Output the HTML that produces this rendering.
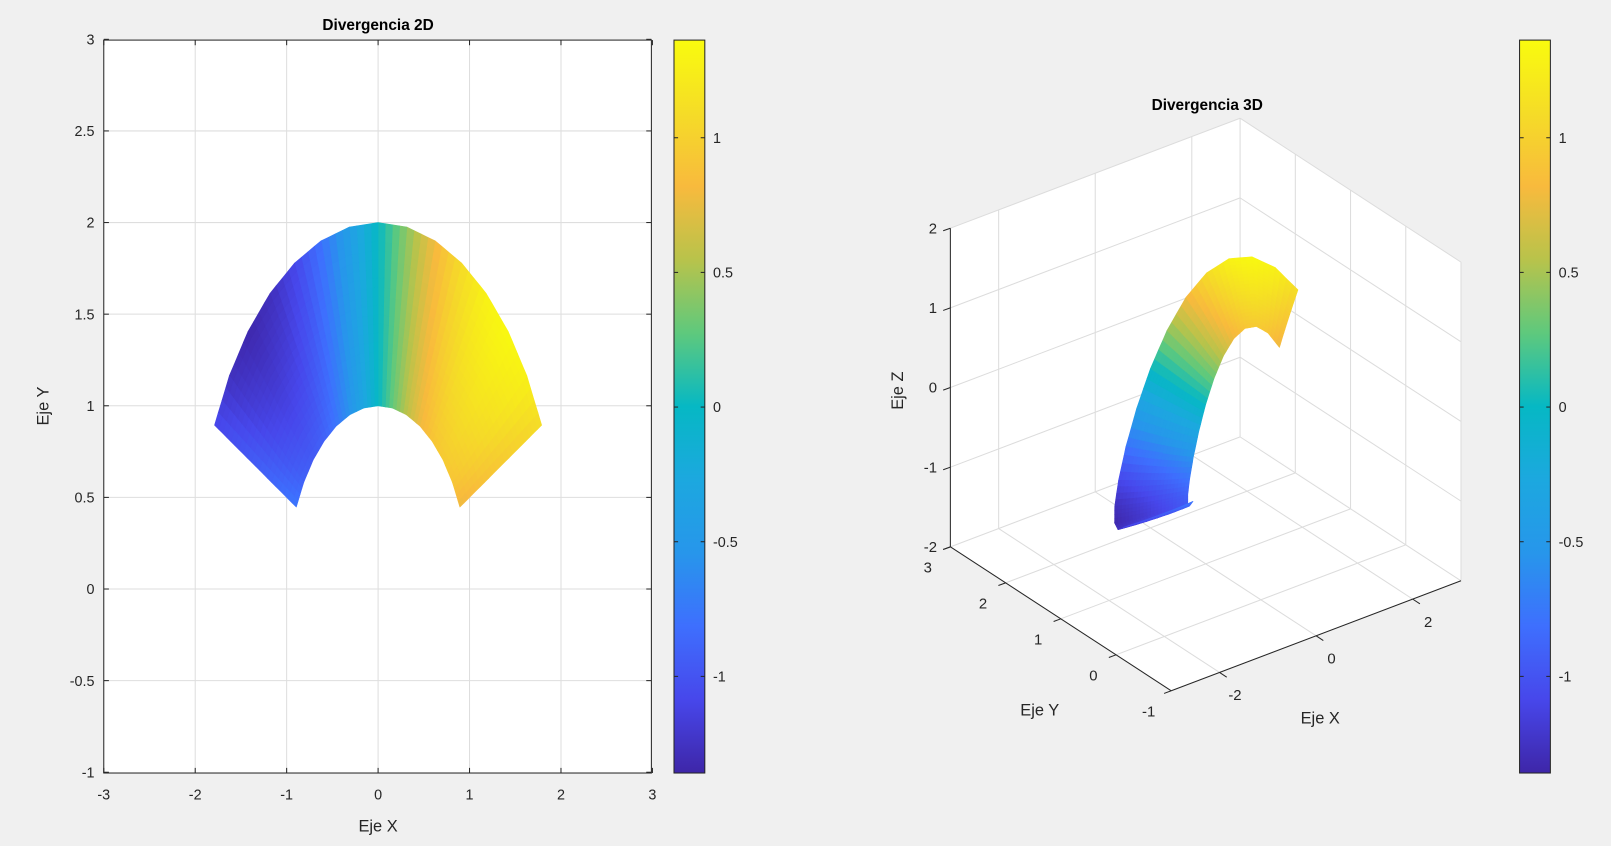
<!DOCTYPE html>
<html><head><meta charset="utf-8">
<style>
html,body{margin:0;padding:0;background:#f0f0f0;}
svg{display:block;font-family:"Liberation Sans",Arial,sans-serif;}
</style></head>
<body>
<svg id="s" width="1611" height="846" viewBox="0 0 1568 823" preserveAspectRatio="none" xmlns="http://www.w3.org/2000/svg">
<defs>
<linearGradient id="cb" x1="0" y1="1" x2="0" y2="0">
<stop offset="0" stop-color="#3e26a8"/><stop offset="0.1" stop-color="#4747eb"/><stop offset="0.2" stop-color="#3e6ffe"/><stop offset="0.3" stop-color="#2796eb"/><stop offset="0.4" stop-color="#1ca8df"/><stop offset="0.5" stop-color="#06b8c4"/><stop offset="0.6" stop-color="#5ec97d"/><stop offset="0.7" stop-color="#b8c34b"/><stop offset="0.8" stop-color="#f8ba3d"/><stop offset="0.9" stop-color="#f5dc27"/><stop offset="1" stop-color="#f9fb0e"/>
</linearGradient>
</defs>
<rect x="0" y="0" width="1568" height="823" fill="#f0f0f0"/>
<rect x="101" y="39" width="533" height="713" fill="#fff"/>
<g id="grid2d" stroke="#dedede" stroke-width="1"></g>
<g id="surf2d"></g>
<rect x="101" y="39" width="533" height="713" fill="none" stroke="#262626" stroke-width="1"/>
<g id="ticks2d" stroke="#262626" stroke-width="1"></g>
<g font-size="14" fill="#262626" id="lab2d"></g>
<text x="368" y="29" font-size="15" font-weight="bold" text-anchor="middle" fill="#000">Divergencia 2D</text>
<text x="368" y="809" font-size="16" text-anchor="middle" fill="#262626">Eje X</text>
<text transform="translate(47,395) rotate(-90)" font-size="16" text-anchor="middle" fill="#262626">Eje Y</text>
<rect x="656" y="39" width="30" height="713" fill="url(#cb)" stroke="#262626" stroke-width="1"/>
<rect x="1479" y="39" width="30" height="713" fill="url(#cb)" stroke="#262626" stroke-width="1"/>
<g id="cbt" stroke="#262626" stroke-width="1"></g>
<g id="cbl" font-size="14" fill="#262626"></g>
<polygon points="925,222 1207,115 1207,423 925,532" fill="#fff"/>
<polygon points="1207,115 1422,255 1422,565 1207,423" fill="#fff"/>
<polygon points="925,532 1207,423 1422,565 1140,672" fill="#fff"/>
<g id="grid3d" stroke="#dcdcdc" stroke-width="1"></g>
<g id="surf3d"></g>
<g id="ax3d" stroke="#262626" stroke-width="1"></g>
<g id="lab3d" font-size="14.5" fill="#262626"></g>
<text x="1175" y="107" font-size="15" font-weight="bold" text-anchor="middle" fill="#000">Divergencia 3D</text>
<text x="1012" y="696" font-size="16" text-anchor="middle" fill="#262626">Eje Y</text>
<text x="1285" y="704" font-size="16" text-anchor="middle" fill="#262626">Eje X</text>
<text transform="translate(879,380) rotate(-90)" font-size="16" text-anchor="middle" fill="#262626">Eje Z</text>
</svg>
<script>
(function(){
var NS="http://www.w3.org/2000/svg";
function el(p,t,a,txt){var e=document.createElementNS(NS,t);for(var k in a)e.setAttribute(k,a[k]);if(txt!==undefined)e.textContent=txt;document.getElementById(p).appendChild(e);return e;}
var stops=[[0,[62,38,168]],[0.1,[71,71,235]],[0.2,[62,111,254]],[0.3,[39,150,235]],[0.4,[28,168,223]],[0.5,[6,184,196]],[0.6,[94,201,125]],[0.7,[184,195,75]],[0.8,[248,186,61]],[0.9,[245,220,39]],[1,[249,251,14]]];
function col(v){var t=(v+1.36)/2.72;t=Math.max(0,Math.min(1,t));for(var i=0;i<stops.length-1;i++){if(t<=stops[i+1][0]){var a=stops[i],b=stops[i+1],f=(t-a[0])/(b[0]-a[0]);var c=[0,1,2].map(function(k){return Math.round(a[1][k]+(b[1][k]-a[1][k])*f);});return "rgb("+c.join(",")+")";}}return "rgb(249,251,14)";}
for(var gx=-2;gx<=2;gx++){var X=368+89*gx;el("grid2d","line",{x1:X,y1:39,x2:X,y2:752});}
for(var gy=-0.5;gy<=2.51;gy+=0.5){var Y=573-178.25*gy;el("grid2d","line",{x1:101,y1:Y,x2:634,y2:Y});}
for(var gx=-3;gx<=3;gx++){var X=368+89*gx;el("ticks2d","line",{x1:X,y1:752,x2:X,y2:747});el("ticks2d","line",{x1:X,y1:39,x2:X,y2:44});el("lab2d","text",{x:X,y:778,"text-anchor":"middle"},String(gx));}
var yl=["-1","-0.5","0","0.5","1","1.5","2","2.5","3"];
for(var i=0;i<9;i++){var v=-1+0.5*i,Y=573-178.25*v;el("ticks2d","line",{x1:101,y1:Y,x2:106,y2:Y});el("ticks2d","line",{x1:634,y1:Y,x2:629,y2:Y});el("lab2d","text",{x:92,y:Y+5,"text-anchor":"end"},yl[i]);}
var cv=[-1,-0.5,0,0.5,1];
[656,1479].forEach(function(x0){cv.forEach(function(v){var Y=396-262*v;el("cbt","line",{x1:x0,y1:Y,x2:x0+4,y2:Y});el("cbt","line",{x1:x0+30,y1:Y,x2:x0+26,y2:Y});el("cbl","text",{x:x0+38,y:Y+5},String(v));});});
var NA=14,NR=5,SUB=4;
var t0=Math.atan(0.5),t1=Math.PI-t0;
function vert(i,j){var th=t0+(t1-t0)*i/NA,r=1+j/NR;var x=r*Math.cos(th),y=r*Math.sin(th);var v=1.9*x*y/Math.pow(r,1.5);return [x,y,v];}
function p2(x,y){return [368+89*x,573-178.25*y];}
function p3(x,y,z){var a=x+3,b=3-y;return [925+a*47+b*53.75,532-a*17.833+b*35-(z+2)*77.5];}
function lerp(a,b,f){return a.map(function(q,k){return q+(b[k]-q)*f;});}
var quads=[];
for(var i=0;i<NA;i++)for(var j=0;j<NR;j++){var A=vert(i,j),B=vert(i+1,j),C=vert(i+1,j+1),D=vert(i,j+1);
for(var u=0;u<SUB;u++)for(var w=0;w<SUB;w++){
var bl=function(fu,fw){return lerp(lerp(A,B,fu),lerp(D,C,fu),fw);};
quads.push([bl(u/SUB,w/SUB),bl((u+1)/SUB,w/SUB),bl((u+1)/SUB,(w+1)/SUB),bl(u/SUB,(w+1)/SUB)]);}}
quads.forEach(function(q){var v=(q[0][2]+q[1][2]+q[2][2]+q[3][2])/4;var c=col(v);
var pts=q.map(function(p){var s=p2(p[0],p[1]);return s[0].toFixed(1)+","+s[1].toFixed(1);}).join(" ");
el("surf2d","polygon",{points:pts,fill:c,stroke:c,"stroke-width":"0.6","stroke-linejoin":"round"});});
var q3=quads.map(function(q){var m=[0,0,0];q.forEach(function(p){m[0]+=p[0]/4;m[1]+=p[1]/4;m[2]+=p[2]/4;});return {q:q,d:(m[0]+3)/6*0.6+(m[1]+1)/4*0.8-(m[2]+2)/4*0.5,v:m[2]};});
q3.sort(function(a,b){return b.d-a.d;});
q3.forEach(function(o){var c=col(o.v);var pts=o.q.map(function(p){var s=p3(p[0],p[1],p[2]);return s[0].toFixed(1)+","+s[1].toFixed(1);}).join(" ");
el("surf3d","polygon",{points:pts,fill:c,stroke:c,"stroke-width":"0.6","stroke-linejoin":"round"});});
function L(g,a,b){var s=p3(a[0],a[1],a[2]),e=p3(b[0],b[1],b[2]);return el(g,"line",{x1:s[0],y1:s[1],x2:e[0],y2:e[1]});}
[-2,0,2].forEach(function(x){L("grid3d",[x,3,-2],[x,3,2]);L("grid3d",[x,-1,-2],[x,3,-2]);});
[0,1,2].forEach(function(y){L("grid3d",[3,y,-2],[3,y,2]);L("grid3d",[-3,y,-2],[3,y,-2]);});
[-1,0,1,2].forEach(function(z){L("grid3d",[-3,3,z],[3,3,z]);L("grid3d",[3,3,z],[3,-1,z]);});
L("grid3d",[3,3,-2],[3,3,2]);L("grid3d",[3,-1,-2],[3,-1,2]);L("grid3d",[-3,3,-2],[3,3,-2]);L("grid3d",[3,3,-2],[3,-1,-2]);
L("ax3d",[-3,3,-2],[-3,3,2]);L("ax3d",[-3,3,-2],[-3,-1,-2]);L("ax3d",[-3,-1,-2],[3,-1,-2]);
[-2,-1,0,1,2].forEach(function(z){var s=p3(-3,3,z);el("ax3d","line",{x1:s[0],y1:s[1],x2:s[0]-7,y2:s[1]+2.5});el("lab3d","text",{x:s[0]-13,y:s[1]+5,"text-anchor":"end"},String(z));});
[-1,0,1,2,3].forEach(function(y){var s=p3(-3,y,-2);el("ax3d","line",{x1:s[0],y1:s[1],x2:s[0]-7,y2:s[1]+2.6});el("lab3d","text",{x:s[0]-22,y:s[1]+25,"text-anchor":"middle"},String(y));});
[-2,0,2].forEach(function(x){var s=p3(x,-1,-2);el("ax3d","line",{x1:s[0],y1:s[1],x2:s[0]+7,y2:s[1]+4.6});el("lab3d","text",{x:s[0]+15,y:s[1]+27,"text-anchor":"middle"},String(x));});
})();
</script>
</body></html>
